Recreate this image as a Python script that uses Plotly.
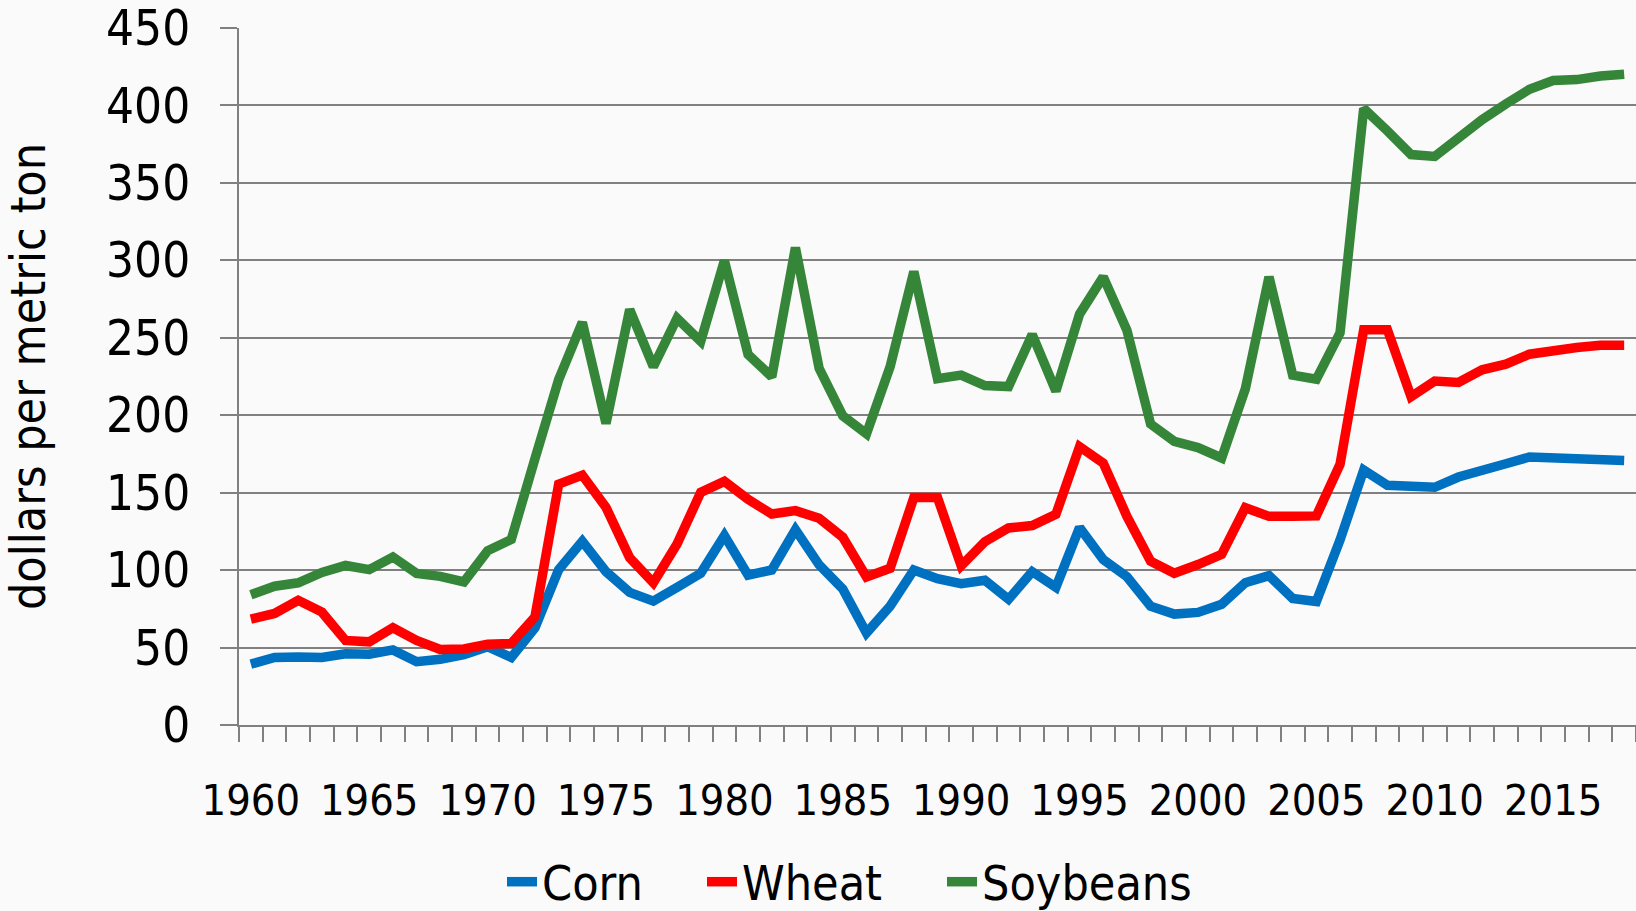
import plotly.graph_objects as go

years = list(range(1960, 2019))

corn = [39.3, 43.6, 43.9, 43.6, 46.0, 45.7, 48.5, 40.9, 42.4, 45.4,
        50.6, 43.6, 62.8, 100.3, 118.6, 99.0, 85.6, 80.0, 88.9, 97.9,
        122.3, 96.7, 100.1, 126.1, 103.4, 87.8, 59.4, 76.7, 100.1, 94.5,
        91.2, 93.4, 81.2, 99.0, 88.9, 127.5, 106.8, 95.7, 76.7, 71.6,
        72.7, 77.9, 91.9, 96.4, 81.7, 79.7, 119.5, 164.6, 154.8, 154.9,
        153.5, 160.1, 163.8, 168.7, 173.0, 172.5, 172.5, 171.6, 170.8]

wheat = [68.3, 72.0, 80.5, 72.9, 54.6, 53.7, 62.8, 54.6, 48.8, 49.1,
         52.1, 52.7, 69.8, 155.5, 161.3, 140.5, 107.9, 91.9, 116.8, 150.2,
         157.3, 145.7, 136.2, 138.4, 133.5, 121.2, 95.6, 101.2, 146.8, 146.8,
         102.8, 118.3, 127.2, 128.8, 136.0, 179.7, 169.1, 134.7, 105.8, 98.0,
         103.6, 110.2, 140.3, 134.7, 134.7, 135.0, 168.3, 255.2, 255.2, 212.0,
         222.1, 221.2, 229.3, 233.0, 239.4, 242.3, 243.7, 245.2, 245.2]

soybeans = [84.1, 89.6, 91.8, 98.5, 103.0, 100.3, 108.5, 97.9, 96.0, 92.4,
            112.5, 119.8, 172.0, 223.0, 260.0, 194.7, 268.2, 231.4, 262.6, 247.7,
            299.8, 239.2, 224.8, 308.2, 230.3, 199.6, 188.0, 231.4, 292.7, 223.6,
            225.9, 219.2, 218.5, 252.1, 215.6, 265.3, 289.3, 254.8, 194.3, 183.1,
            179.1, 172.4, 217.0, 289.3, 225.9, 223.3, 253.2, 398.0, 383.6, 368.3,
            367.1, 379.2, 390.8, 400.9, 410.4, 416.1, 416.7, 419.0, 420.2]

series_names = ["Corn", "Wheat", "Soybeans"]
series_colors = ["#0070c0", "#ff0000", "#36863a"]
label_years = list(range(1960, 2019, 5))
y_ticks = list(range(0, 451, 50))

FONT = "DejaVu Sans Condensed, DejaVu Sans, sans-serif"
GRID = "#808080"
W, H = 1636, 911

legend_ids = ["legend", "legend2", "legend3"]
legend_left_px = [502, 702, 942]

fig = go.Figure()
for name, vals, col, lg in zip(series_names, [corn, wheat, soybeans], series_colors, legend_ids):
    fig.add_trace(go.Scatter(x=years, y=vals, name=name, mode="lines",
                             line=dict(color=col, width=9.5), legend=lg))

legend_common = dict(orientation="h", xref="container", xanchor="left",
                     y=1 - 882 / H, yref="container", yanchor="middle",
                     font=dict(size=48), bgcolor="rgba(0,0,0,0)",
                     itemwidth=30, borderwidth=0)

fig.update_layout(
    width=W, height=H,
    margin=dict(l=239, r=0, t=28, b=186),
    paper_bgcolor="#fafafa", plot_bgcolor="#fafafa",
    font=dict(family=FONT, color="#000000", size=45),
    showlegend=True,
    legend=dict(x=legend_left_px[0] / W, **legend_common),
    legend2=dict(x=legend_left_px[1] / W, **legend_common),
    legend3=dict(x=legend_left_px[2] / W, **legend_common),
)

fig.update_xaxes(
    range=[1959.5, 2018.5],
    tickmode="array", tickvals=label_years, ticktext=[str(y) for y in label_years],
    ticks="", ticklabelstandoff=36,
    showgrid=False, zeroline=False,
    showline=True, linecolor=GRID, linewidth=2,
    tickfont=dict(size=43),
    minor=dict(tick0=1959.5, dtick=1, ticks="outside", ticklen=15,
               tickcolor=GRID, tickwidth=1.5, showgrid=False),
)

fig.update_yaxes(
    range=[0, 450], tickmode="array", tickvals=y_ticks,
    ticks="outside", ticklen=17, tickcolor=GRID, tickwidth=2,
    ticklabelstandoff=20,
    showgrid=True, gridcolor=GRID, gridwidth=2,
    zeroline=False,
    showline=True, linecolor=GRID, linewidth=2,
    tickfont=dict(size=49),
    title=dict(text="dollars per metric ton", font=dict(size=48), standoff=50),
)

fig.write_html("out.html",
               config={"displayModeBar": False},
               post_script="document.body.style.margin='0px';document.body.style.background='#fafafa';")
